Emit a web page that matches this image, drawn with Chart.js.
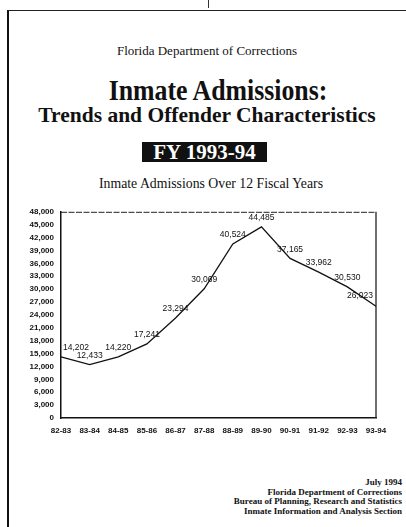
<!DOCTYPE html>
<html>
<head>
<meta charset="utf-8">
<script src="https://cdn.jsdelivr.net/npm/chart.js@4"></script>
<style>
  body { margin: 0; background: #fff; }
  #page { position: relative; width: 406px; height: 527px; overflow: hidden; background: #fff; color: #111; }
  .frame { position: absolute; left: 7px; top: 10px; width: 410px; height: 530px; border-left: 2px solid #111; border-top: 1.5px solid #222; }
  .c { position: absolute; left: 8px; width: 398px; text-align: center; line-height: 1; font-family: "Liberation Serif", "Times New Roman", serif; white-space: nowrap; }
  #fy { position: absolute; left: 142px; top: 142px; width: 125px; height: 20px; background: #111; color: #fff; text-align: center; font: bold 21px/21px "Liberation Serif", serif; }
  #foot { position: absolute; right: 4px; top: 478px; text-align: right; font: bold 9px/9.5px "Liberation Serif", serif; }
  #chart-box { position: absolute; left: 0; top: 200px; width: 406px; height: 245px; }
</style>
</head>
<body>
<div id="page">
  <div class="frame"></div>
  <div style="position:absolute;left:208px;top:0;width:1px;height:8px;background:#333"></div>
  <div class="c" style="top:44px;font-size:13px">Florida Department of Corrections</div>
  <div class="c" style="top:76px;font-size:29px;font-weight:bold;transform:translateX(11px) scaleX(0.89)">Inmate Admissions:</div>
  <div class="c" style="top:105px;font-size:21.5px;font-weight:bold">Trends and Offender Characteristics</div>
  <div id="fy">FY 1993-94</div>
  <div class="c" style="top:176px;font-size:14.2px;transform:translateX(4px) scaleX(0.97)">Inmate Admissions Over 12 Fiscal Years</div>
  <div id="chart-box"><canvas id="myChart" width="406" height="245"></canvas></div>
  <div id="foot">July 1994<br>Florida Department of Corrections<br>Bureau of Planning, Research and Statistics<br>Inmate Information and Analysis Section</div>
</div>
<script>
var years = ['82-83', '83-84', '84-85', '85-86', '86-87', '87-88', '88-89', '89-90', '90-91', '91-92', '92-93', '93-94'];
var admissions = [14202, 12433, 14220, 17241, 23294, 30069, 40524, 44485, 37165, 33962, 30530, 26023];
var yMax = 48000;
var yStep = 3000;

function withCommas(v) {
    return v.toString().replace(/\B(?=(\d{3})+(?!\d))/g, ',');
}

// value labels over each point, first one pushed right, last one pushed left
var pointLabels = {
    id: 'pointLabels',
    afterDatasetsDraw: function (chart) {
        var ctx = chart.ctx;
        var pts = chart.getDatasetMeta(0).data;
        ctx.save();
        ctx.font = '8.5px "Liberation Sans", Arial, sans-serif';
        ctx.fillStyle = '#111';
        ctx.textBaseline = 'middle';
        for (var i = 0; i < pts.length; i++) {
            var x = pts[i].x, y = pts[i].y - 9;
            if (i == 0) { ctx.textAlign = 'left'; x += 2; }
            else if (i == pts.length - 1) { ctx.textAlign = 'right'; x -= 3; y -= 2; }
            else ctx.textAlign = 'center';
            ctx.fillText(withCommas(admissions[i]), x, y);
        }
        ctx.restore();
    }
};

// top and right edges of the plot box
var plotBox = {
    id: 'plotBox',
    beforeDatasetsDraw: function (chart) {
        var a = chart.chartArea, ctx = chart.ctx;
        ctx.save();
        ctx.strokeStyle = '#222';
        ctx.lineWidth = 1;
        ctx.setLineDash([6, 1.5]);
        ctx.beginPath();
        ctx.moveTo(a.left, a.top + 0.5);
        ctx.lineTo(a.right, a.top + 0.5);
        ctx.stroke();
        ctx.setLineDash([]);
        ctx.lineWidth = 1.3;
        ctx.beginPath();
        ctx.moveTo(a.right, a.top);
        ctx.lineTo(a.right, a.bottom);
        ctx.stroke();
        ctx.restore();
    }
};

var ctx = document.getElementById('myChart');
var myChart = new Chart(ctx, {
    type: 'line',
    data: {
        labels: years,
        datasets: [{
            label: 'Inmate Admissions',
            data: admissions,
            borderColor: '#111',
            borderWidth: 1.3,
            pointRadius: 0,
            tension: 0,
            fill: false
        }]
    },
    options: {
        responsive: false,
        animation: false,
        devicePixelRatio: 1,
        layout: { padding: { left: 0, right: 30, top: 10, bottom: 0 } },
        plugins: { legend: { display: false }, tooltip: { enabled: false } },
        scales: {
            x: {
                offset: false,
                grid: { display: false, drawTicks: false },
                border: { display: true, color: '#111', width: 1.5 },
                ticks: {
                    color: '#111', padding: 8, maxRotation: 0, autoSkip: false,
                    font: { family: '"Liberation Sans", Arial, sans-serif', size: 8, weight: 'bold' }
                },
                afterFit: function (scale) { scale.height = 27; }
            },
            y: {
                min: 0,
                max: yMax,
                grid: { display: false, drawTicks: false },
                border: { display: true, color: '#111', width: 1.5 },
                ticks: {
                    stepSize: yStep, color: '#111', padding: 7,
                    font: { family: '"Liberation Sans", Arial, sans-serif', size: 8, weight: 'bold' },
                    callback: function (v) { return withCommas(v); }
                },
                afterFit: function (scale) { scale.width = 61; }
            }
        }
    },
    plugins: [plotBox, pointLabels]
});
</script>
</body>
</html>
